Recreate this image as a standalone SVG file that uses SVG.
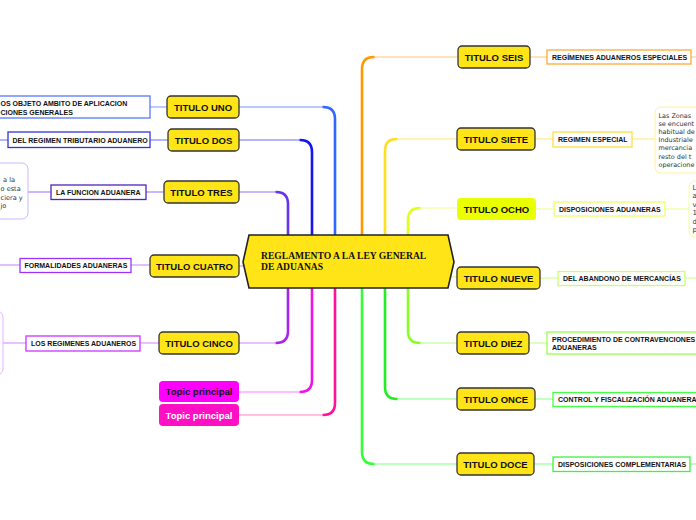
<svg xmlns="http://www.w3.org/2000/svg" width="696" height="520" viewBox="0 0 696 520">
<style>
.node rect{fill:#ffe517;stroke:#333;stroke-width:1.3}
.nt{font-family:"Liberation Sans",Arial,sans-serif;font-weight:bold;font-size:9.5px;fill:#111;text-anchor:middle}
.sub rect{fill:#fff;stroke-width:1.3}
.st{font-family:"Liberation Sans",Arial,sans-serif;font-weight:bold;font-size:7px;fill:#111}
.note rect{fill:#fff;stroke-width:1}
.ntx{font-family:"DejaVu Sans",Verdana,sans-serif;font-size:7px;fill:#333}
.v{fill:none;stroke-width:2.6;stroke-linecap:round}
.h{fill:none;stroke-width:1.4}
</style>
<g id="connectors">
<path class="v" d="M335,235 V119 Q335,107 323,107" stroke="#3366ff"/>
<path class="h" d="M323,107 H239" stroke="#a6b4ff"/>
<path class="v" d="M312,235 V152 Q312,140 300,140" stroke="#1515ee"/>
<path class="h" d="M300,140 H239" stroke="#9c9cff"/>
<path class="v" d="M288,235 V204 Q288,192 276,192" stroke="#6633ee"/>
<path class="h" d="M276,192 H239" stroke="#b9a0ff"/>
<path class="h" d="M239,266 H245" stroke="#cfa6ff"/>
<path class="v" d="M288,288 V331 Q288,343 276,343" stroke="#aa22ee"/>
<path class="h" d="M276,343 H239" stroke="#e0aaff"/>
<path class="v" d="M312,288 V380 Q312,392 300,392" stroke="#ee11ee"/>
<path class="h" d="M300,392 H239" stroke="#ffaaff"/>
<path class="v" d="M335,288 V403 Q335,415 323,415" stroke="#ff1199"/>
<path class="h" d="M323,415 H239" stroke="#ffaad9"/>
<path class="v" d="M362,235 V69 Q362,57 374,57" stroke="#ff9900"/>
<path class="h" d="M374,57 H457" stroke="#ffd9a0"/>
<path class="v" d="M385,235 V151 Q385,139 397,139" stroke="#ffdd22"/>
<path class="h" d="M397,139 H457" stroke="#fff0a0"/>
<path class="v" d="M408,235 V220 Q408,208 420,208" stroke="#e0ff1a"/>
<path class="h" d="M420,208 H457" stroke="#f2ffb0"/>
<path class="h" d="M450,277 H457" stroke="#d4ff99"/>
<path class="v" d="M408,288 V331 Q408,343 420,343" stroke="#88ff22"/>
<path class="h" d="M420,343 H457" stroke="#ccffaa"/>
<path class="v" d="M385,288 V387 Q385,399 397,399" stroke="#22ee22"/>
<path class="h" d="M397,399 H457" stroke="#aaffaa"/>
<path class="v" d="M362,288 V452 Q362,464 374,464" stroke="#33ff33"/>
<path class="h" d="M374,464 H457" stroke="#aaffaa"/>
<path class="h" d="M150,107 H167" stroke="#a6b4ff"/>
<path class="h" d="M0,140 H8 M150,140 H168" stroke="#9c9cff"/>
<path class="h" d="M28,192 H51 M146,192 H164" stroke="#b9a0ff"/>
<path class="h" d="M0,265 H20 M131,265 H150" stroke="#d6aaff"/>
<path class="h" d="M3,343 H26 M140,343 H159" stroke="#e6aaff"/>
<path class="h" d="M530,57 H547 M691,57 H696" stroke="#ffd9a0"/>
<path class="h" d="M535,139 H553 M632,139 H655" stroke="#fff0a0"/>
<path class="h" d="M536,209 H554 M665,209 H689" stroke="#f2ffb0"/>
<path class="h" d="M540,278 H558 M685,278 H696" stroke="#d9ffaa"/>
<path class="h" d="M529,343 H547" stroke="#ccffaa"/>
<path class="h" d="M535,399 H553" stroke="#aaffaa"/>
<path class="h" d="M534,464 H553 M690,464 H696" stroke="#aaffaa"/>
</g>
<g id="center">
<path d="M249,235 L448,235 L454,262 L448,288 L249,288 L243,262 Z" fill="#ffe517" stroke="#222" stroke-width="1.6"/>
<text x="261" y="259" font-family="Liberation Serif,'Times New Roman',serif" font-weight="bold" font-size="9.6" fill="#111">REGLAMENTO A LA LEY GENERAL</text>
<text x="261" y="270" font-family="Liberation Serif,'Times New Roman',serif" font-weight="bold" font-size="9.6" fill="#111">DE ADUANAS</text>
</g>
<g id="titulo-uno" class="node"><rect x="167" y="96" width="72" height="22" rx="4"/><text class="nt" x="203" y="110.5">TITULO UNO</text></g>
<g id="titulo-dos" class="node"><rect x="168" y="129" width="71" height="22" rx="4"/><text class="nt" x="203.5" y="143.5">TITULO DOS</text></g>
<g id="titulo-tres" class="node"><rect x="164" y="181" width="75" height="22" rx="4"/><text class="nt" x="201.5" y="195.5">TITULO TRES</text></g>
<g id="titulo-cuatro" class="node"><rect x="150" y="255" width="89" height="22" rx="4"/><text class="nt" x="194.5" y="269.5">TITULO CUATRO</text></g>
<g id="titulo-cinco" class="node"><rect x="159" y="332" width="80" height="22" rx="4"/><text class="nt" x="199" y="346.5">TITULO CINCO</text></g>
<g id="topic-1"><rect x="159" y="381" width="80" height="21" rx="4" fill="#ff00ff"/><text class="nt" x="199" y="395">Topic principal</text></g>
<g id="topic-2"><rect x="159" y="404" width="80" height="22" rx="4" fill="#ff10c4"/><text class="nt" x="199" y="418.5" style="fill:#fff">Topic principal</text></g>
<g id="titulo-seis" class="node"><rect x="458" y="46" width="72" height="22" rx="4"/><text class="nt" x="494" y="60.5">TITULO SEIS</text></g>
<g id="titulo-siete" class="node"><rect x="457" y="128" width="78" height="22" rx="4"/><text class="nt" x="496" y="142.5">TITULO SIETE</text></g>
<g id="titulo-ocho"><rect x="457" y="198" width="79" height="22" rx="4" fill="#eaff00"/><text class="nt" x="496.5" y="212.5">TITULO OCHO</text></g>
<g id="titulo-nueve" class="node"><rect x="457" y="267" width="83" height="22" rx="4"/><text class="nt" x="498.5" y="281.5">TITULO NUEVE</text></g>
<g id="titulo-diez" class="node"><rect x="457" y="332" width="72" height="22" rx="4"/><text class="nt" x="493" y="346.5">TITULO DIEZ</text></g>
<g id="titulo-once" class="node"><rect x="457" y="388" width="78" height="22" rx="4"/><text class="nt" x="496" y="402.5">TITULO ONCE</text></g>
<g id="titulo-doce" class="node"><rect x="457" y="453" width="77" height="22" rx="4"/><text class="nt" x="495.5" y="467.5">TITULO DOCE</text></g>
<g id="sub-uno" class="sub"><rect x="-10" y="96" width="160" height="22" stroke="#5577ff"/><text class="st" x="0.5" y="106">OS OBJETO AMBITO DE APLICACION</text><text class="st" x="0.5" y="114.5">CIONES GENERALES</text></g>
<g id="sub-dos" class="sub"><rect x="8" y="132" width="142" height="15.5" stroke="#3333dd"/><text class="st" x="12.5" y="142.5">DEL REGIMEN TRIBUTARIO ADUANERO</text></g>
<g id="sub-tres" class="sub"><rect x="51" y="185" width="95" height="14.5" stroke="#5522bb"/><text class="st" x="56" y="194.8">LA FUNCION ADUANERA</text></g>
<g id="note-tres" class="note"><rect x="-20" y="163" width="48" height="56" rx="6" stroke="#c9b8ff"/><text class="ntx" style="font-size:6.6px"><tspan x="3" y="182">a la</tspan><tspan x="0.5" y="191">o esta</tspan><tspan x="0.5" y="199.5">ciera y</tspan><tspan x="0.5" y="208">jo</tspan></text></g>
<g id="sub-cuatro" class="sub"><rect x="20" y="258.5" width="111" height="14" stroke="#9933ff"/><text class="st" x="24.5" y="268">FORMALIDADES ADUANERAS</text></g>
<g id="sub-cinco" class="sub"><rect x="26" y="336" width="114" height="15" stroke="#cc33ff"/><text class="st" x="31" y="346">LOS REGIMENES ADUANEROS</text></g>
<g id="note-cinco" class="note"><rect x="-20" y="311" width="23" height="64" rx="6" stroke="#e6b3ff"/></g>
<g id="sub-seis" class="sub"><rect x="547" y="50" width="144" height="14" stroke="#ffaa33"/><text class="st" x="552" y="59.5">REGÍMENES ADUANEROS ESPECIALES</text></g>
<g id="sub-siete" class="sub"><rect x="553" y="132" width="79" height="15" stroke="#ffdd44"/><text class="st" x="558" y="142">REGIMEN ESPECIAL</text></g>
<g id="note-siete" class="note"><rect x="655" y="107" width="60" height="66" rx="6" stroke="#fff0a0"/><text class="ntx" style="font-size:6.45px"><tspan x="658.5" y="117.5">Las Zonas</tspan><tspan x="658.5" y="126">se encuent</tspan><tspan x="658.5" y="134">habitual de</tspan><tspan x="658.5" y="142">Industriale</tspan><tspan x="658.5" y="150">mercancia</tspan><tspan x="658.5" y="158.5">resto del t</tspan><tspan x="658.5" y="166.5">operacione</tspan></text></g>
<g id="sub-ocho" class="sub"><rect x="554" y="202" width="111" height="14" stroke="#eeff66"/><text class="st" x="559" y="211.5">DISPOSICIONES ADUANERAS</text></g>
<g id="note-ocho" class="note"><rect x="689" y="181" width="30" height="56" rx="6" stroke="#f0ffa0"/><text class="ntx"><tspan x="692.5" y="189.5">L</tspan><tspan x="692.5" y="198">a</tspan><tspan x="692.5" y="206.5">v</tspan><tspan x="692.5" y="215">1</tspan><tspan x="692.5" y="223.5">d</tspan><tspan x="692.5" y="232">p</tspan></text></g>
<g id="sub-nueve" class="sub"><rect x="558" y="271.5" width="127" height="14" stroke="#ccff66"/><text class="st" x="563" y="281">DEL ABANDONO DE MERCANCÍAS</text></g>
<g id="sub-diez" class="sub"><rect x="547" y="332" width="160" height="22" stroke="#99ff44"/><text class="st" x="552" y="341.5">PROCEDIMIENTO DE CONTRAVENCIONES</text><text class="st" x="552" y="349.5">ADUANERAS</text></g>
<g id="sub-once" class="sub"><rect x="553" y="392.5" width="150" height="14" stroke="#44ff44"/><text class="st" x="558" y="402">CONTROL Y FISCALIZACIÓN ADUANERA</text></g>
<g id="sub-doce" class="sub"><rect x="553" y="457" width="137" height="14.5" stroke="#44ee44"/><text class="st" x="558" y="466.5">DISPOSICIONES COMPLEMENTARIAS</text></g>
</svg>
